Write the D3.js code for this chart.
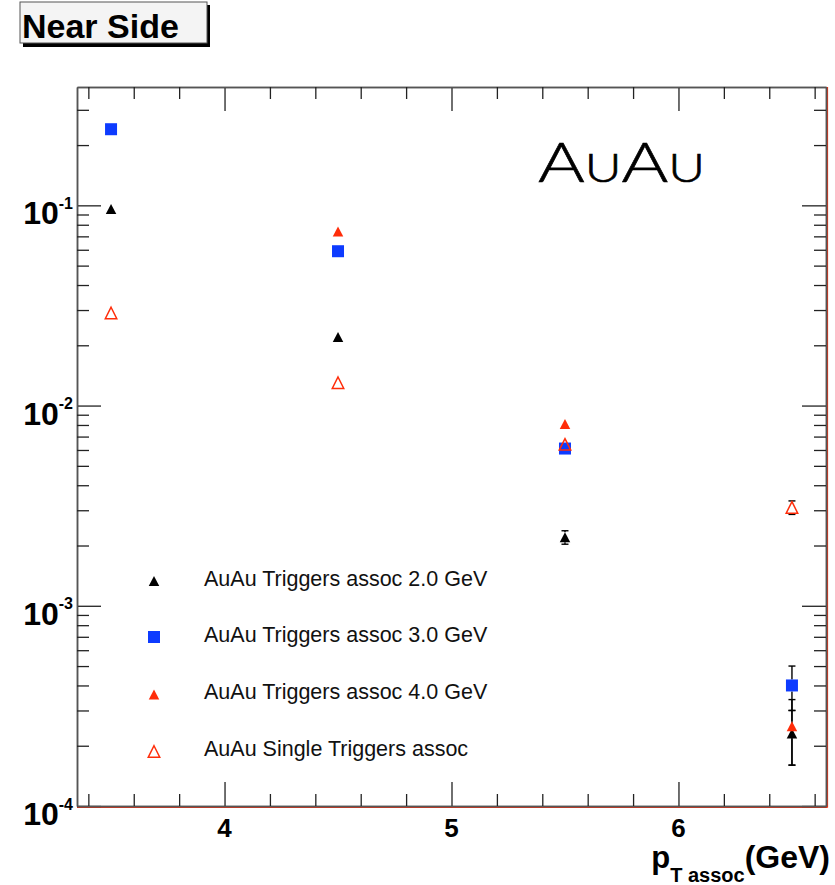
<!DOCTYPE html>
<html>
<head>
<meta charset="utf-8">
<script src="https://cdn.jsdelivr.net/npm/d3@7"></script>
<style>
  html, body { margin: 0; padding: 0; background: #ffffff; }
  svg { display: block; }
  .root-text { font-family: "Liberation Sans", Arial, Helvetica, sans-serif; }
  .system-label { font-family: Lato, "Open Sans", sans-serif; font-weight: 300; font-variant: small-caps; }
</style>
</head>
<body>
<svg id="chart" width="835" height="885"></svg>
<script>
// Associated particle pT (GeV)
const pT = [3.5, 4.5, 5.5, 6.5];

// Near-side yields per trigger, with statistical errors
const assoc2 = [0.096, 0.022, 0.0022, 0.00023];
const err2   = [0, 0, 0.00017, 0.00007];
const assoc3 = [0.24, 0.059, 0.0061, 0.0004];
const err3   = [0, 0, 0, 0.0001];
const assoc4 = [null, 0.074, 0.0081, 0.00025];
const err4   = [null, 0, 0, 0.00009];
const single = [0.029, 0.013, 0.0064, 0.0031];
const errS   = [0, 0, 0, 0.00024];

const legendLabels = [
  "AuAu Triggers assoc 2.0 GeV",
  "AuAu Triggers assoc 3.0 GeV",
  "AuAu Triggers assoc 4.0 GeV",
  "AuAu Single Triggers assoc"
];

const xTickValues = [4, 5, 6];
const xTickLabels = ["4", "5", "6"];
const yDecadeExponents = [-4, -3, -2, -1];

const BLUE = "#0d3bff";
const RED = "#ff2d0a";

const svg = d3.select("#chart");
const frame = { left: 77, right: 826, top: 87, bottom: 806 };

const x = d3.scaleLinear().domain([3.35, 6.65]).range([frame.left, frame.right]);
const y = d3.scaleLog().domain([1e-4, 0.39]).range([frame.bottom, frame.top]);

// ---- title box ----
const tb = svg.append("g");
tb.append("rect").attr("x", 23).attr("y", 5).attr("width", 187).attr("height", 42).attr("fill", "#000");
tb.append("rect").attr("x", 20).attr("y", 2).attr("width", 187).attr("height", 41)
  .attr("fill", "#f4f4f4").attr("stroke", "#555").attr("stroke-width", 1);
tb.append("text").attr("class", "root-text").attr("x", 22).attr("y", 38)
  .attr("font-size", 34).attr("font-weight", "bold").attr("fill", "#000").text("Near Side");

// ---- frame (red outline on bottom/right edges) ----
svg.append("line").attr("x1", frame.left).attr("x2", frame.right + 1.5)
  .attr("y1", frame.bottom + 1.2).attr("y2", frame.bottom + 1.2)
  .attr("stroke", RED).attr("stroke-width", 1.8);
svg.append("line").attr("x1", frame.right + 1.2).attr("x2", frame.right + 1.2)
  .attr("y1", frame.top).attr("y2", frame.bottom + 1.5)
  .attr("stroke", RED).attr("stroke-width", 1.8);

// ---- axes ----
const decades = yDecadeExponents.map(e => Math.pow(10, e));
const yMinor = y.ticks().filter(v => {
  const l = Math.log10(v);
  return Math.abs(l - Math.round(l)) > 1e-6;
});
const xMinor = x.ticks(16).filter(v => Math.abs(v - Math.round(v)) > 1e-6);

function styleAxis(g) {
  g.select(".domain").attr("stroke", "#555").attr("stroke-width", 1.5);
  g.selectAll(".tick line").attr("stroke", "#222").attr("stroke-width", 1.3);
  g.selectAll(".tick text").remove();
}

// left
svg.append("g").attr("transform", `translate(${frame.left},0)`)
  .call(d3.axisLeft(y).tickValues(decades).tickSize(-24).tickSizeOuter(0).tickFormat(""))
  .call(styleAxis);
svg.append("g").attr("transform", `translate(${frame.left},0)`)
  .call(d3.axisLeft(y).tickValues(yMinor).tickSize(-12).tickSizeOuter(0).tickFormat(""))
  .call(styleAxis);
// right
svg.append("g").attr("transform", `translate(${frame.right},0)`)
  .call(d3.axisRight(y).tickValues(decades).tickSize(-24).tickSizeOuter(0).tickFormat(""))
  .call(styleAxis);
svg.append("g").attr("transform", `translate(${frame.right},0)`)
  .call(d3.axisRight(y).tickValues(yMinor).tickSize(-12).tickSizeOuter(0).tickFormat(""))
  .call(styleAxis);
// bottom
svg.append("g").attr("transform", `translate(0,${frame.bottom})`)
  .call(d3.axisBottom(x).tickValues(xTickValues).tickSize(-24).tickSizeOuter(0).tickFormat(""))
  .call(styleAxis);
svg.append("g").attr("transform", `translate(0,${frame.bottom})`)
  .call(d3.axisBottom(x).tickValues(xMinor).tickSize(-12).tickSizeOuter(0).tickFormat(""))
  .call(styleAxis);
// top
svg.append("g").attr("transform", `translate(0,${frame.top})`)
  .call(d3.axisTop(x).tickValues(xTickValues).tickSize(-24).tickSizeOuter(0).tickFormat(""))
  .call(styleAxis);
svg.append("g").attr("transform", `translate(0,${frame.top})`)
  .call(d3.axisTop(x).tickValues(xMinor).tickSize(-12).tickSizeOuter(0).tickFormat(""))
  .call(styleAxis);

// y tick labels: 10^n
yDecadeExponents.forEach(e => {
  const yy = y(Math.pow(10, e));
  const t = svg.append("text").attr("class", "root-text").attr("x", 73).attr("y", yy + 19)
    .attr("text-anchor", "end").attr("font-weight", "bold").attr("fill", "#000");
  t.append("tspan").attr("font-size", 32).text("10");
  t.append("tspan").attr("font-size", 16).attr("dy", -15.5).text(String(e));
});

// x tick labels
xTickValues.forEach((v, i) => {
  svg.append("text").attr("class", "root-text").attr("x", x(v)).attr("y", 837)
    .attr("text-anchor", "middle").attr("font-size", 26).attr("font-weight", "bold")
    .attr("fill", "#000").text(xTickLabels[i]);
});

// x axis title
const xt = svg.append("text").attr("class", "root-text").attr("x", 830).attr("y", 868)
  .attr("text-anchor", "end").attr("font-weight", "bold").attr("fill", "#000");
xt.append("tspan").attr("font-size", 31).text("p");
xt.append("tspan").attr("font-size", 20).attr("dy", 14).text("T assoc");
xt.append("tspan").attr("font-size", 32).attr("dy", -14).text("(GeV)");

// ---- marker shapes ----
function triPath(w, h) {
  return `M0,${-h / 2}L${w / 2},${h / 2}L${-w / 2},${h / 2}Z`;
}
const styles = [
  { values: assoc2, errors: err2, kind: "tri", fill: "#000", stroke: "#000", w: 10.5, h: 10 },
  { values: assoc3, errors: err3, kind: "sq", fill: BLUE, stroke: BLUE, w: 12, h: 12 },
  { values: assoc4, errors: err4, kind: "tri", fill: RED, stroke: RED, w: 10.5, h: 10 },
  { values: single, errors: errS, kind: "open", fill: "none", stroke: RED, w: 13, h: 13 }
];

function drawMarker(g, s, cx, cy) {
  if (s.kind === "sq") {
    g.append("rect").attr("x", cx - s.w / 2).attr("y", cy - s.h / 2)
      .attr("width", s.w).attr("height", s.h).attr("fill", s.fill);
  } else if (s.kind === "tri") {
    g.append("path").attr("d", triPath(s.w, s.h))
      .attr("transform", `translate(${cx},${cy})`).attr("fill", s.fill);
  } else {
    g.append("path").attr("d", triPath(s.w - 1.5, s.h - 1.5))
      .attr("transform", `translate(${cx},${cy})`)
      .attr("fill", "none").attr("stroke", s.stroke).attr("stroke-width", 1.5);
  }
}

// error bars (black, with short caps) first, then markers on top
const errG = svg.append("g");
const markG = svg.append("g");
styles.forEach(s => {
  pT.forEach((p, i) => {
    const v = s.values[i];
    if (v == null) return;
    const e = s.errors[i];
    const cx = x(p), cy = y(v);
    if (e > 0) {
      const yTop = y(v + e), yBot = y(v - e);
      const gap = s.h / 2;
      const c = "#000";
      if (cy - gap > yTop) errG.append("line").attr("x1", cx).attr("x2", cx).attr("y1", yTop).attr("y2", cy - gap)
        .attr("stroke", c).attr("stroke-width", 1.4);
      if (cy + gap < yBot) errG.append("line").attr("x1", cx).attr("x2", cx).attr("y1", cy + gap).attr("y2", yBot)
        .attr("stroke", c).attr("stroke-width", 1.4);
      [yTop, yBot].forEach(yy => errG.append("line").attr("x1", cx - 3.5).attr("x2", cx + 3.5)
        .attr("y1", yy).attr("y2", yy).attr("stroke", c).attr("stroke-width", 1.4));
    }
    drawMarker(markG, s, cx, cy);
  });
});

// ---- legend ----
const legendY = [581, 637, 694.5, 751.5];
styles.forEach((s, i) => {
  const g = svg.append("g");
  drawMarker(g, s, 154, legendY[i]);
  g.append("text").attr("class", "root-text").attr("x", 204).attr("y", legendY[i] + 4.5)
    .attr("font-size", 21.5).attr("fill", "#111").text(legendLabels[i]);
});

// ---- collision system label ----
svg.append("text").attr("class", "system-label").attr("x", 538).attr("y", 182)
  .attr("font-size", 55)
  .attr("textLength", 167).attr("lengthAdjust", "spacingAndGlyphs")
  .attr("fill", "#000").attr("stroke", "#000").attr("stroke-width", 0.6)
  .text("AuAu");
</script>
</body>
</html>
